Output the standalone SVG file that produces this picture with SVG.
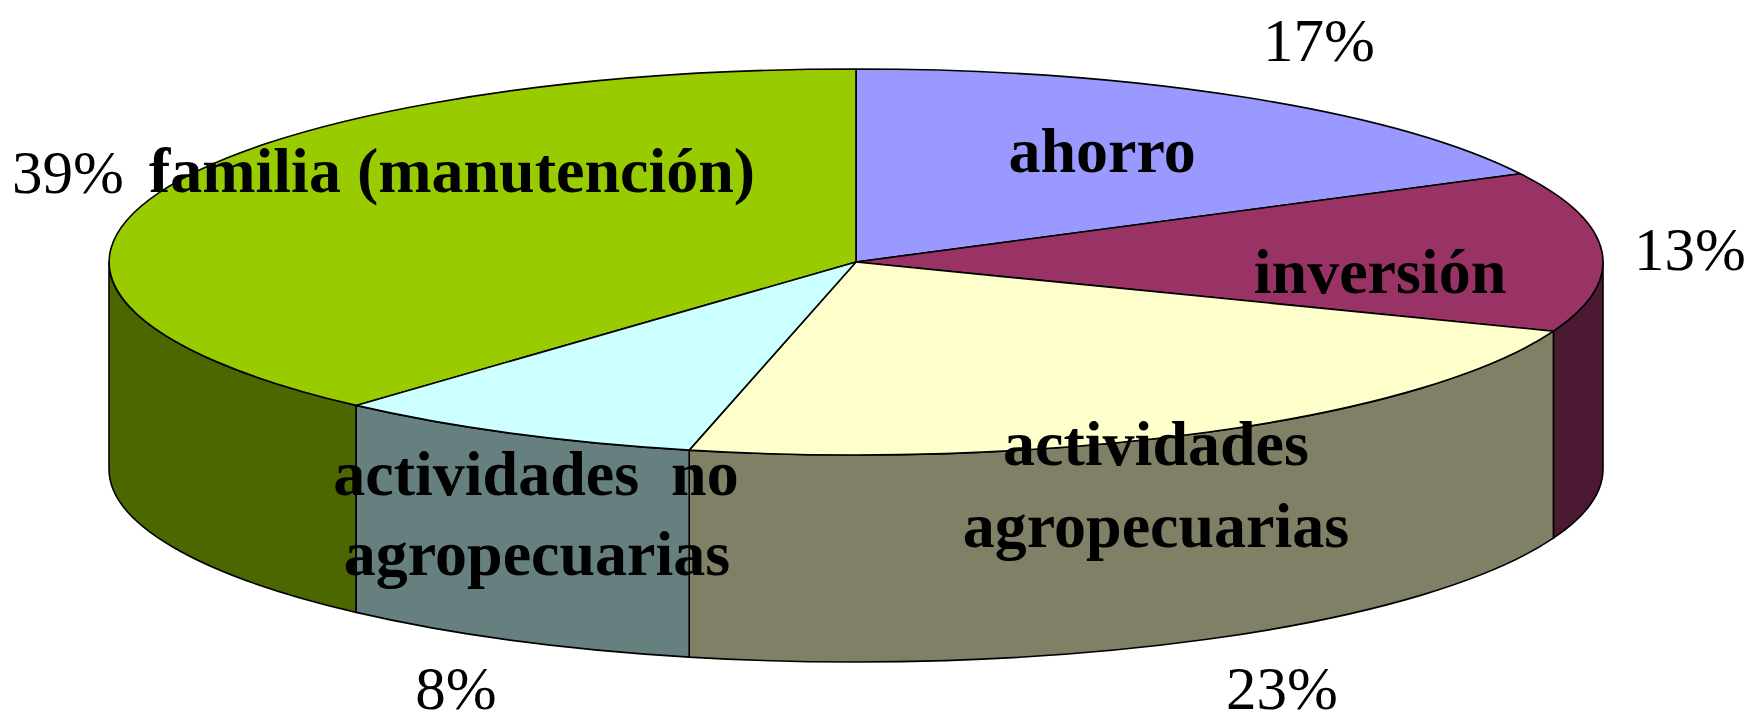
<svg xmlns="http://www.w3.org/2000/svg" width="1750" height="723" viewBox="0 0 1750 723">
<style>
.e{stroke:#000;stroke-width:1.6;stroke-linejoin:round}
.lb{font-family:"Liberation Serif","Times New Roman",serif;font-weight:bold;font-size:64px;fill:#000;text-anchor:middle}
.pc{font-family:"Liberation Serif","Times New Roman",serif;font-size:61px;fill:#000;text-anchor:middle}
</style>
<rect width="1750" height="723" fill="#fff"/>
<g id="ahorro">
<path class="e" fill="#9999FF" d="M856,262 L856,69 A747,193 0 0 1 1520.4,173.8 Z"/>
<text class="lb" x="1102" y="172">ahorro</text>
<text class="pc" x="1319" y="61">17%</text>
</g>
<g id="inversion">
<path class="e" fill="#4C1933" d="M1603,262 A747,193 0 0 1 1553.4,331.2 L1553.4,538.2 A747,193 0 0 0 1603,469 Z"/>
<path class="e" fill="#993366" d="M856,262 L1520.4,173.8 A747,193 0 0 1 1553.4,331.2 Z"/>
<text class="lb" x="1380" y="293">inversión</text>
<text class="pc" x="1690" y="270">13%</text>
</g>
<g id="familia">
<path class="e" fill="#4C6600" d="M356.2,405.4 A747,193 0 0 1 109,262 L109,469 A747,193 0 0 0 356.2,612.4 Z"/>
<path class="e" fill="#99CC00" d="M856,262 L356.2,405.4 A747,193 0 0 1 856,69 Z"/>
<text class="lb" x="452" y="192">familia (manutención)</text>
<text class="pc" x="68" y="193">39%</text>
</g>
<g id="agropecuarias">
<path class="e" fill="#808066" d="M1553.4,331.2 A747,193 0 0 1 689.2,450.1 L689.2,657.1 A747,193 0 0 0 1553.4,538.2 Z"/>
<path class="e" fill="#FFFFCC" d="M856,262 L1553.4,331.2 A747,193 0 0 1 689.2,450.1 Z"/>
<text class="lb" x="1156" y="465">actividades</text>
<text class="lb" x="1156" y="547">agropecuarias</text>
<text class="pc" x="1282" y="709">23%</text>
</g>
<g id="no-agropecuarias">
<path class="e" fill="#668080" d="M689.2,450.1 A747,193 0 0 1 356.2,405.4 L356.2,612.4 A747,193 0 0 0 689.2,657.1 Z"/>
<path class="e" fill="#CCFFFF" d="M856,262 L689.2,450.1 A747,193 0 0 1 356.2,405.4 Z"/>
<text class="lb" x="536" y="495" xml:space="preserve">actividades  no</text>
<text class="lb" x="537" y="575">agropecuarias</text>
<text class="pc" x="456" y="709">8%</text>
</g>
</svg>
